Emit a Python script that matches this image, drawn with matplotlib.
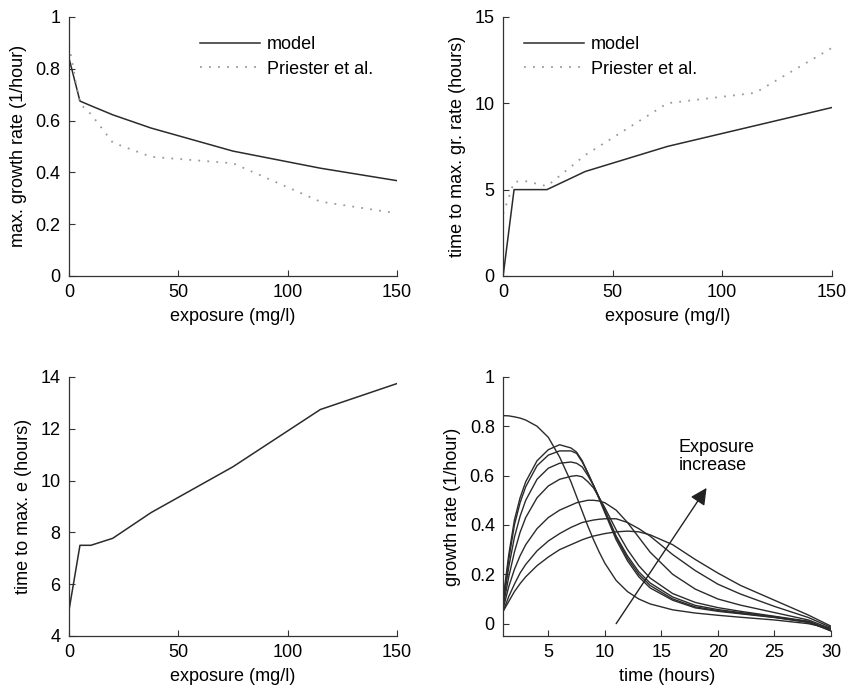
import matplotlib.pyplot as plt
import numpy as np

plt.rcParams['font.family'] = ['Liberation Sans', 'DejaVu Sans']
plt.rcParams['font.size'] = 13

# exposure levels (mg/l)
exposure = [0, 5, 10, 20, 37.5, 75, 115, 150]

max_rate_model = [0.84, 0.675, 0.657, 0.622, 0.571, 0.482, 0.416, 0.368]
max_rate_priester = [0.89, 0.665, 0.625, 0.515, 0.46, 0.435, 0.287, 0.242]

t_max_model = [0, 5, 5, 5, 6.05, 7.5, 8.7, 9.75]
t_max_priester = [3.6, 5.45, 5.5, 5.2, 7.0, 10.0, 10.6, 13.2]

t_max_e = [5.0, 7.5, 7.5, 7.77, 8.76, 10.53, 12.74, 13.74]

# growth rate time courses, one curve per exposure level
time = [1, 1.5, 2, 2.5, 3, 4, 5, 6, 7, 7.5, 8, 8.5, 9, 9.5, 10, 11, 12, 13, 14, 16, 18, 20, 22, 25, 28, 30]
rate_curves = [
    [0.843, 0.842, 0.838, 0.833, 0.825, 0.80, 0.755, 0.675, 0.575, 0.515, 0.455, 0.395, 0.34, 0.29, 0.245, 0.175, 0.13, 0.10, 0.08, 0.056, 0.043, 0.034, 0.026, 0.015, 0.0, -0.02],
    [0.10, 0.28, 0.42, 0.51, 0.575, 0.66, 0.705, 0.725, 0.712, 0.695, 0.66, 0.61, 0.56, 0.505, 0.45, 0.34, 0.255, 0.19, 0.145, 0.095, 0.064, 0.05, 0.04, 0.025, 0.005, -0.025],
    [0.09, 0.26, 0.40, 0.49, 0.555, 0.64, 0.683, 0.70, 0.70, 0.69, 0.655, 0.61, 0.56, 0.51, 0.455, 0.35, 0.265, 0.20, 0.155, 0.10, 0.068, 0.053, 0.042, 0.026, 0.006, -0.028],
    [0.08, 0.23, 0.35, 0.435, 0.50, 0.585, 0.63, 0.65, 0.655, 0.65, 0.635, 0.60, 0.56, 0.51, 0.46, 0.355, 0.275, 0.21, 0.165, 0.108, 0.074, 0.057, 0.045, 0.028, 0.008, -0.03],
    [0.07, 0.19, 0.29, 0.37, 0.43, 0.51, 0.558, 0.585, 0.597, 0.60, 0.595, 0.575, 0.55, 0.51, 0.47, 0.38, 0.30, 0.235, 0.185, 0.122, 0.086, 0.065, 0.05, 0.03, 0.01, -0.025],
    [0.06, 0.15, 0.22, 0.275, 0.32, 0.385, 0.43, 0.46, 0.48, 0.49, 0.495, 0.50, 0.50, 0.497, 0.49, 0.46, 0.41, 0.35, 0.29, 0.20, 0.14, 0.10, 0.075, 0.045, 0.015, -0.02],
    [0.05, 0.11, 0.16, 0.205, 0.24, 0.295, 0.335, 0.365, 0.39, 0.40, 0.41, 0.415, 0.42, 0.423, 0.425, 0.425, 0.41, 0.385, 0.355, 0.28, 0.215, 0.16, 0.12, 0.07, 0.025, -0.015],
    [0.05, 0.09, 0.13, 0.162, 0.19, 0.235, 0.27, 0.30, 0.32, 0.33, 0.34, 0.348, 0.355, 0.36, 0.365, 0.372, 0.375, 0.372, 0.36, 0.32, 0.26, 0.205, 0.155, 0.095, 0.035, -0.01],
]

line_col = '#2b2b2b'
dot_col = '#9a9a9a'

fig = plt.figure(figsize=(8.47, 6.91), dpi=100)
ax1 = fig.add_axes([0.0815, 0.6006, 0.387, 0.375])
ax2 = fig.add_axes([0.594, 0.6006, 0.388, 0.375])
ax3 = fig.add_axes([0.0815, 0.0796, 0.387, 0.375])
ax4 = fig.add_axes([0.594, 0.0796, 0.387, 0.375])

for ax in (ax1, ax2, ax3, ax4):
    ax.spines['top'].set_visible(False)
    ax.spines['right'].set_visible(False)
    for s in ('left', 'bottom'):
        ax.spines[s].set_color('#333333')
        ax.spines[s].set_linewidth(0.9)
    ax.tick_params(direction='in', length=4, width=0.8, color='#333333', pad=6)
    ax.yaxis.set_major_formatter(plt.FormatStrFormatter('%g'))

leg_kw = dict(loc='upper left', frameon=False, borderpad=0, borderaxespad=0,
              handlelength=3.3, handletextpad=0.4, labelspacing=0.4)

# max growth rate
ax1.plot(exposure, max_rate_model, color=line_col, lw=1.1, label='model')
ax1.plot(exposure, max_rate_priester, color=dot_col, lw=1.3, ls=(0, (1, 4)), label='Priester et al.')
ax1.set_xlim(0, 150)
ax1.set_ylim(0, 1)
ax1.set_xticks([0, 50, 100, 150])
ax1.set_yticks([0, 0.2, 0.4, 0.6, 0.8, 1])
ax1.set_xlabel('exposure (mg/l)', labelpad=5)
ax1.set_ylabel('max. growth rate (1/hour)', labelpad=6)
ax1.legend(bbox_to_anchor=(0.40, 0.925), **leg_kw)

# time to max growth rate
ax2.plot(exposure, t_max_model, color=line_col, lw=1.1, label='model')
ax2.plot(exposure, t_max_priester, color=dot_col, lw=1.3, ls=(0, (1, 4)), label='Priester et al.')
ax2.set_xlim(0, 150)
ax2.set_ylim(0, 15)
ax2.set_xticks([0, 50, 100, 150])
ax2.set_yticks([0, 5, 10, 15])
ax2.set_xlabel('exposure (mg/l)', labelpad=5)
ax2.set_ylabel('time to max. gr. rate (hours)', labelpad=6)
ax2.legend(bbox_to_anchor=(0.064, 0.925), **leg_kw)

# time to max e
ax3.plot(exposure, t_max_e, color=line_col, lw=1.1)
ax3.set_xlim(0, 150)
ax3.set_ylim(4, 14)
ax3.set_xticks([0, 50, 100, 150])
ax3.set_yticks([4, 6, 8, 10, 12, 14])
ax3.set_xlabel('exposure (mg/l)', labelpad=5)
ax3.set_ylabel('time to max. e (hours)', labelpad=6)

# growth rate over time
for curve in rate_curves:
    ax4.plot(time, curve, color=line_col, lw=1.0)
ax4.set_xlim(1, 30)
ax4.set_ylim(-0.05, 1)
ax4.set_xticks([5, 10, 15, 20, 25, 30])
ax4.set_yticks([0, 0.2, 0.4, 0.6, 0.8, 1])
ax4.set_xlabel('time (hours)', labelpad=5)
ax4.set_ylabel('growth rate (1/hour)', labelpad=6)
ax4.annotate('', xy=(19.0, 0.55), xytext=(11.0, 0.0),
             arrowprops=dict(arrowstyle='-|>', mutation_scale=25, lw=1.0,
                             color='#222222', shrinkA=0, shrinkB=0))
ax4.text(16.5, 0.75, 'Exposure\nincrease', ha='left', va='top', linespacing=1.1)

fig.savefig('out.png', dpi=100)
